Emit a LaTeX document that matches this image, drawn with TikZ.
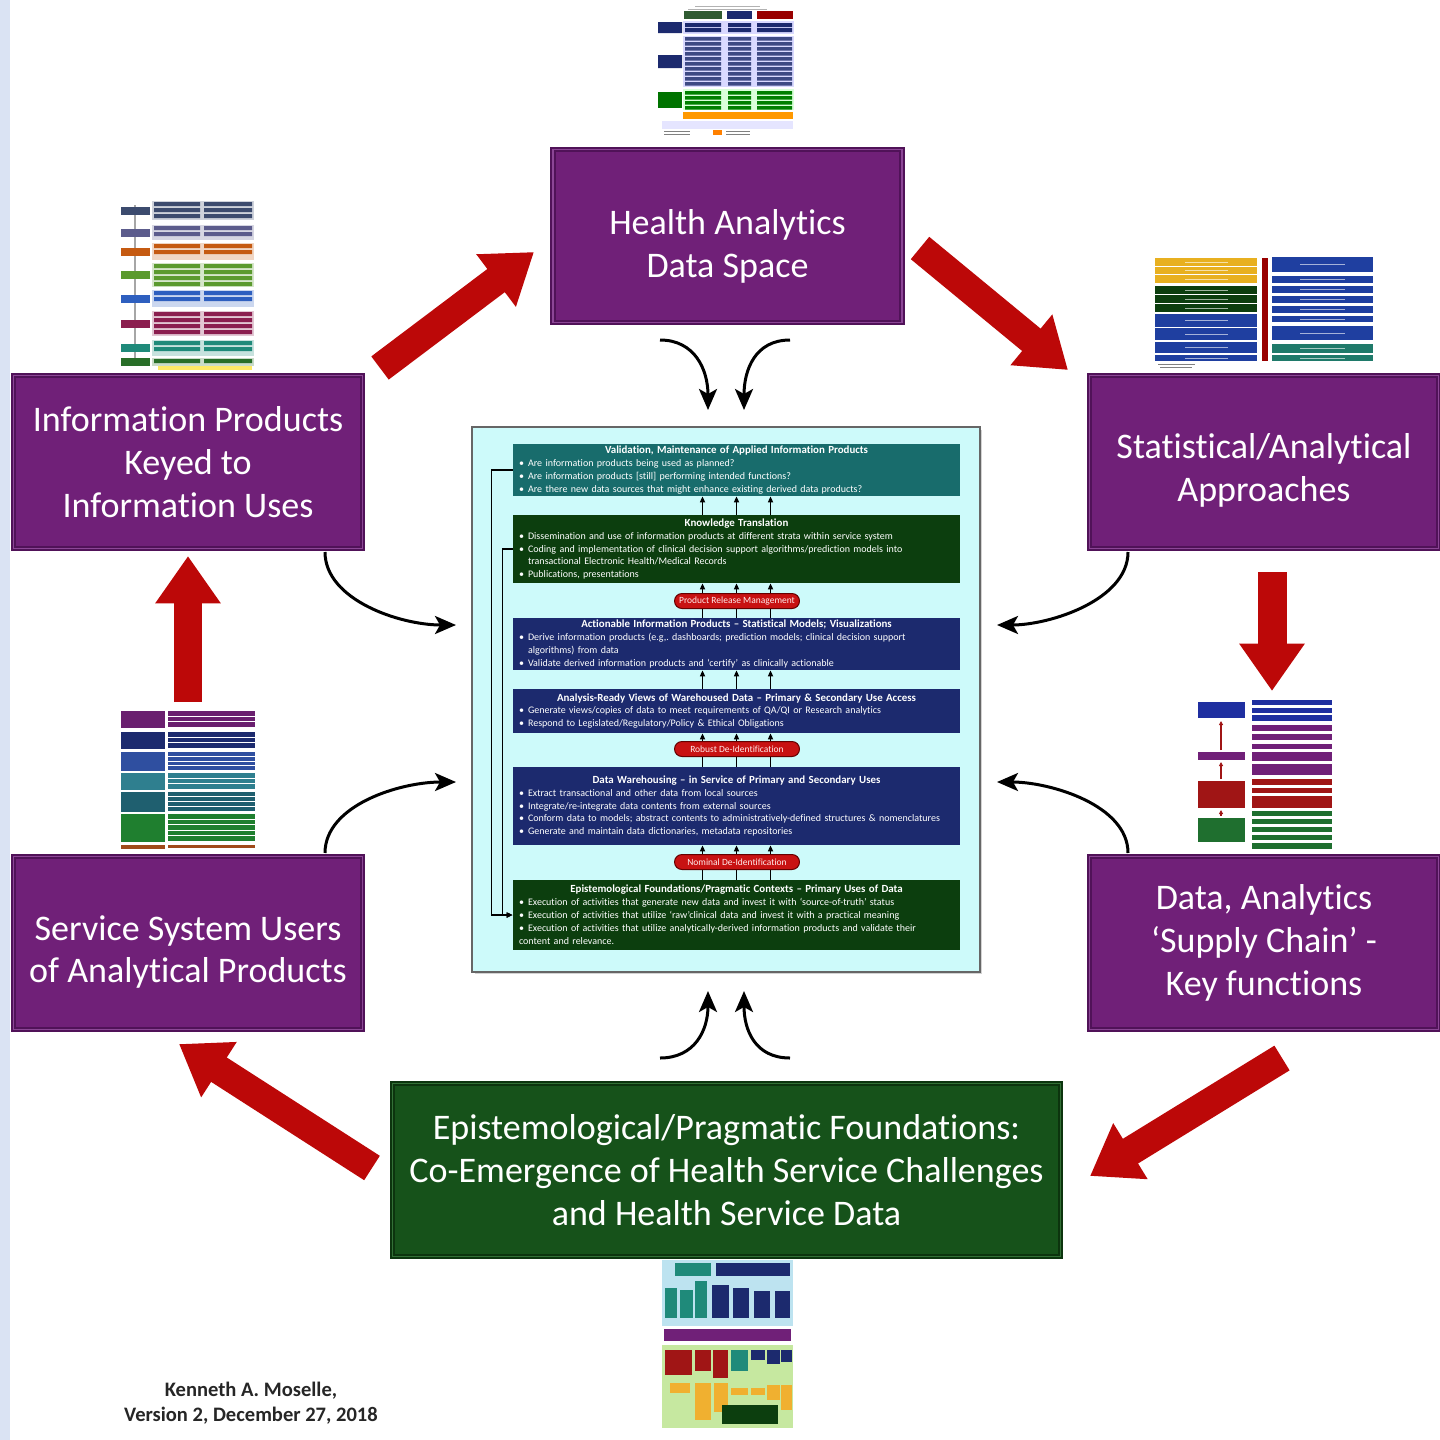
\documentclass[tikz,border=0pt]{standalone}
\usepackage{fontspec}
\setmainfont{Carlito}[Ligatures=NoCommon]
\usetikzlibrary{arrows.meta,calc,shadows}

\definecolor{boxpurple}{RGB}{112,32,120}
\definecolor{boxedge}{RGB}{80,18,88}
\definecolor{boxbevel}{RGB}{140,70,150}
\definecolor{boxgreen}{RGB}{22,82,26}
\definecolor{greenedge}{RGB}{12,52,14}
\definecolor{greenbevel}{RGB}{50,112,54}
\definecolor{panelcyan}{RGB}{205,250,250}
\definecolor{ipteal}{RGB}{24,108,108}
\definecolor{ipgreen}{RGB}{12,62,14}
\definecolor{ipnavy}{RGB}{28,42,110}
\definecolor{pillred}{RGB}{200,18,18}
\definecolor{arrowred}{RGB}{188,8,8}
\definecolor{stripblue}{RGB}{218,227,243}
\definecolor{ulslate}{RGB}{60,75,110}
\definecolor{ulgray}{RGB}{92,92,140}
\definecolor{ulorange}{RGB}{197,90,17}
\definecolor{ulgreen}{RGB}{91,154,46}
\definecolor{ulblue}{RGB}{46,95,191}
\definecolor{ulmaroon}{RGB}{139,30,79}
\definecolor{ulteal}{RGB}{31,138,122}
\definecolor{uldkgreen}{RGB}{40,110,40}
\definecolor{uryellow}{RGB}{232,176,32}
\definecolor{urblue}{RGB}{31,63,160}
\definecolor{urteal}{RGB}{31,122,106}
\definecolor{llpurple}{RGB}{106,31,111}
\definecolor{llblue}{RGB}{47,79,160}
\definecolor{llteal}{RGB}{47,127,143}
\definecolor{lldkteal}{RGB}{31,95,111}
\definecolor{llgreen}{RGB}{31,127,47}
\definecolor{llbrown}{RGB}{160,74,26}
\definecolor{lrblue}{RGB}{31,47,160}
\definecolor{lrred}{RGB}{160,21,21}
\definecolor{lrgreen}{RGB}{31,111,47}
\definecolor{tbblue}{RGB}{189,227,240}
\definecolor{tbgreen}{RGB}{198,232,160}
\definecolor{tborange}{RGB}{240,176,48}

\newcommand\ititle[1]{{\centering\bfseries\fontsize{6.2}{7.37}\selectfont #1\par}}
\newcommand\ibul[1]{\par\hangindent=0.18cm\hangafter=1\noindent\makebox[0.18cm][l]{\textbullet}#1}

\begin{document}
\begin{tikzpicture}[x=0.02cm,y=-0.02cm,
  bigbox/.style={draw=boxedge, fill=boxpurple, line width=0.04cm, minimum width=6.98cm, minimum height=3.46cm,
    double=boxbevel, double distance=0.03cm},
  boxtext/.style={align=center, text=white, font=\fontsize{20.5}{24.4}\selectfont},
  bigarrow/.style={draw=arrowred, line width=0.58cm, -{Triangle[length=0.95cm,width=1.25cm]}},
  swoop/.style={line width=0.06cm, -{Stealth[length=0.42cm,width=0.36cm,inset=0.1cm]}},
  innerbox/.style={text=white, text width=8.7cm, inner xsep=0.12cm, inner ysep=0.02cm,
    minimum width=8.94cm, font=\fontsize{5.7}{7.37}\selectfont\raggedright},
  pill/.style={fill=pillred, draw=red!40!black, line width=0.02cm, rounded corners=0.15cm,
    minimum width=2.5cm, minimum height=0.3cm, inner sep=0pt, text=white!92!red,
    font=\fontsize{5.4}{6}\selectfont},
  flowarrow/.style={line width=0.03cm, -{Triangle[length=0.12cm,width=0.1cm]}},
  feedline/.style={line width=0.03cm, -{Triangle[length=0.12cm,width=0.1cm]}}]

\useasboundingbox (0,0) rectangle (1440,1440);
\fill[stripblue] (0,0) rectangle (10,1440);

%% thumbnails
% top
\draw[gray!60, line width=0.02cm] (695,6) -- (760,6) (688,9) -- (767,9);
\fill[ipgreen!85] (684,11) rectangle (722,19);
\fill[ipnavy] (727,11) rectangle (752,19);
\fill[red!60!black] (757,11) rectangle (793,19);
\fill[blue!15] (683,21) rectangle (794,34);
\fill[blue!15] (683,36) rectangle (794,87);
\fill[green!15] (683,89) rectangle (794,110);
\fill[ipnavy] (658,22) rectangle (682,33) (658,55) rectangle (682,68);
\fill[green!45!black] (658,92) rectangle (682,108);
\foreach \y in {23,28}
  \fill[ipnavy] (685,\y) rectangle (721,\y+4) (728,\y) rectangle (751,\y+4) (757,\y) rectangle (792,\y+4);
\foreach \y in {37,42,...,82}
  \fill[ipnavy!85] (685,\y) rectangle (721,\y+3.5) (728,\y) rectangle (751,\y+3.5) (757,\y) rectangle (792,\y+3.5);
\foreach \y in {91,96,...,106}
  \fill[green!50!black] (685,\y) rectangle (721,\y+3.5) (728,\y) rectangle (751,\y+3.5) (757,\y) rectangle (792,\y+3.5);
\fill[orange!80!yellow] (683,112) rectangle (793,119);
\fill[blue!10] (662,121) rectangle (793,129);
\fill[orange] (713,130) rectangle (722,135);
\draw[gray, line width=0.02cm] (664,131) -- (690,131) (664,134) -- (690,134) (726,131) -- (750,131) (726,134) -- (750,134);

% upper left
\draw[gray!70, line width=0.04cm] (135,205) -- (135,364);
\foreach \a/\b/\c in {201/220/ulslate,225/240/ulgray,243/260/ulorange,263/287/ulgreen,
    290/307/ulblue,311/336/ulmaroon,340/356/ulteal,358/366/uldkgreen} {
  \fill[\c!25] (152,\a) rectangle (254,\b);
  \fill[\c] (121,{(\a+\b)/2-4}) rectangle (150,{(\a+\b)/2+4});
  \pgfmathtruncatemacro\n{max(1,(\b-\a)/6)}
  \foreach \k in {1,...,\n}
    \fill[\c] (154,{\a-5+6*\k}) rectangle (200,{\a-1+6*\k}) (204,{\a-5+6*\k}) rectangle (252,{\a-1+6*\k});
}
\fill[yellow!80!orange!60] (158,366) rectangle (252,370);

% upper right
\foreach \a/\b/\c in {258/266/uryellow,267/274/uryellow,275/283/uryellow,286/294/ipgreen,
    295/303/ipgreen,304/312/ipgreen,314/327/urblue,328/340/urblue,342/353/urblue,355/361/urblue} {
  \fill[\c] (1155,\a) rectangle (1257,\b);
  \draw[white!60!\c, line width=0.02cm] (1185,{(\a+\b)/2}) -- (1228,{(\a+\b)/2});
}
\fill[red!60!black] (1262,258) rectangle (1268,361);
\foreach \a/\b/\c in {257/272/urblue,276/283/urblue,286/293/urblue,296/303/urblue,306/313/urblue,
    316/322/urblue,326/340/urblue,344/353/urteal,355/361/urteal} {
  \fill[\c] (1272,\a) rectangle (1373,\b);
  \draw[white!60!\c, line width=0.02cm] (1300,{(\a+\b)/2}) -- (1345,{(\a+\b)/2});
}
\draw[gray, line width=0.02cm] (1158,364) -- (1195,364) (1160,367) -- (1192,367);

% lower left
\foreach \a/\b/\c/\n in {711/728/llpurple/3,732/749/ipnavy/3,752/771/llblue/4,773/790/llteal/3,
    792/812/lldkteal/4,814/842/llgreen/5,845/849/llbrown/1} {
  \fill[\c] (121,\a) rectangle (165,\b);
  \foreach \k in {1,...,\n}
    \fill[\c] (168,{\a+(\k-1)*(\b-\a)/\n}) rectangle (255,{\a+\k*(\b-\a)/\n-1});
}

% lower right
\fill[lrblue] (1198,702) rectangle (1245,718);
\fill[boxpurple] (1198,752) rectangle (1245,760);
\fill[lrred] (1198,781) rectangle (1245,808);
\fill[lrgreen] (1198,818) rectangle (1245,842);
\draw[lrred, line width=0.03cm, -{Triangle[length=0.08cm,width=0.08cm]}] (1221,750) -- (1221,721);
\draw[lrred, line width=0.03cm, -{Triangle[length=0.08cm,width=0.08cm]}] (1221,779) -- (1221,762);
\draw[lrred, line width=0.03cm, -{Triangle[length=0.08cm,width=0.08cm]}] (1221,816) -- (1221,810);
\foreach \a/\b/\c in {700/705/lrblue,708/713/lrblue,715/721/lrblue,725/731/boxpurple,734/740/boxpurple,
    744/749/boxpurple,752/761/boxpurple,764/775/boxpurple,779/785/lrred,788/793/lrred,796/808/lrred,
    811/816/lrgreen,819/824/lrgreen,827/832/lrgreen,835/840/lrgreen,843/849/lrgreen}
  \fill[\c] (1252,\a) rectangle (1332,\b);

% bottom
\fill[tbblue] (662,1260) rectangle (793,1326);
\fill[ulteal] (675,1263) rectangle (711,1276);
\fill[ipnavy] (716,1263) rectangle (790,1276);
\foreach \a/\b/\t/\c in {665/677/1288/ulteal,680/693/1290/ulteal,695/707/1281/ulteal,712/729/1285/ipnavy,
    733/749/1288/ipnavy,754/770/1291/ipnavy,775/790/1291/ipnavy}
  \fill[\c] (\a,\t) rectangle (\b,1318);
\fill[boxpurple] (664,1329) rectangle (791,1341);
\fill[tbgreen] (662,1345) rectangle (793,1428);
\foreach \a/\b/\h/\c in {665/692/1375/lrred,695/711/1371/lrred,713/728/1378/lrred,731/748/1371/ulteal,
    751/765/1360/ipnavy,767/780/1364/ipnavy,781/792/1362/ipnavy}
  \fill[\c] (\a,1350) rectangle (\b,\h);
\foreach \a/\b/\t/\h in {670/690/1383/1393,695/711/1383/1420,714/728/1383/1412,731/748/1388/1395,
    751/765/1388/1395,767/780/1385/1400,781/792/1385/1410}
  \fill[tborange] (\a,\t) rectangle (\b,\h);
\fill[ipgreen] (722,1405) rectangle (778,1424);

%% outer boxes
\node[bigbox] (hads) at (727.5,236) {};
\node[boxtext] (hadstext) at (727.5,246) {Health Analytics\\Data Space};
\node[bigbox] (infoprod) at (188,462) {};
\node[boxtext] (infoprodtext) at (188,462) {Information Products\\Keyed to\\Information Uses};
\node[bigbox] (statapp) at (1264,462) {};
\node[boxtext] (statapptext) at (1264,470) {Statistical/Analytical\\Approaches};
\node[bigbox] (users) at (188,943) {};
\node[boxtext] (userstext) at (188,952) {Service System Users\\of Analytical Products};
\node[bigbox] (supply) at (1264,943) {};
\node[boxtext] (supplytext) at (1264,943) {Data, Analytics\\‘Supply Chain’ -\\Key functions};
\node[bigbox, draw=greenedge, fill=boxgreen, double=greenbevel, minimum width=13.36cm] (found) at (726.5,1170) {};
\node[boxtext] (foundtext) at (726.5,1170) {Epistemological/Pragmatic Foundations:\\Co-Emergence of Health Service Challenges\\and Health Service Data};

%% big red arrows
\coordinate (ul-a) at (380,368);
\coordinate (ul-b) at (534,252);
\coordinate (ur-a) at (920,248);
\coordinate (ur-b) at (1068,370);
\coordinate (r-a) at (1272,572);
\coordinate (r-b) at (1272,691);
\coordinate (l-a) at (188,702);
\coordinate (l-b) at (188,556);
\coordinate (lr-a) at (1282,1058);
\coordinate (lr-b) at (1090,1176);
\coordinate (ll-a) at (372,1168);
\coordinate (ll-b) at (179,1044);
\draw[bigarrow] (ul-a) -- (ul-b);
\draw[bigarrow] (ur-a) -- (ur-b);
\draw[bigarrow] (r-a) -- (r-b);
\draw[bigarrow] (l-a) -- (l-b);
\draw[bigarrow] (lr-a) -- (lr-b);
\draw[bigarrow] (ll-a) -- (ll-b);

%% central panel
\node[fill=panelcyan, draw=gray!80!black, line width=0.05cm, minimum width=10.16cm, minimum height=10.9cm,
  drop shadow={shadow xshift=0.05cm, shadow yshift=-0.05cm, opacity=0.35}] (panel) at (726,699.5) {};

\node[innerbox, fill=ipteal, minimum height=1.04cm] (valid) at (736.5,470) {%
  \ititle{Validation, Maintenance of Applied Information Products}
  \ibul{Are information products being used as planned?}
  \ibul{Are information products [still] performing intended functions?}
  \ibul{Are there new data sources that might enhance existing derived data products?}};
\node[innerbox, fill=ipgreen, minimum height=1.36cm] (ktrans) at (736.5,549) {%
  \ititle{Knowledge Translation}
  \ibul{Dissemination and use of information products at different strata within service system}
  \ibul{Coding and implementation of clinical decision support algorithms/prediction models into\break transactional Electronic Health/Medical Records}
  \ibul{Publications, presentations}};
\node[innerbox, fill=ipnavy, minimum height=1.04cm] (action) at (736.5,644) {%
  \ititle{Actionable Information Products – Statistical Models; Visualizations}
  \ibul{Derive information products (e.g,.\ dashboards; prediction models; clinical decision support\break algorithms) from data}
  \ibul{Validate derived information products and ‘certify’ as clinically actionable}};
\node[innerbox, fill=ipnavy, minimum height=0.88cm] (ready) at (736.5,711) {%
  \ititle{Analysis-Ready Views of Warehoused Data – Primary \& Secondary Use Access}
  \ibul{Generate views/copies of data to meet requirements of QA/QI or Research analytics}
  \ibul{Respond to Legislated/Regulatory/Policy \& Ethical Obligations}};
\node[innerbox, fill=ipnavy, minimum height=1.56cm] (warehouse) at (736.5,806) {%
  \ititle{Data Warehousing – in Service of Primary and Secondary Uses}
  \ibul{Extract transactional and other data from local sources}
  \ibul{Integrate/re-integrate data contents from external sources}
  \ibul{Conform data to models; abstract contents to administratively-defined structures \& nomenclatures}
  \ibul{Generate and maintain data dictionaries, metadata repositories}};
\node[innerbox, fill=ipgreen, minimum height=1.4cm] (epist) at (736.5,915) {%
  \ititle{Epistemological Foundations/Pragmatic Contexts – Primary Uses of Data}
  \ibul{Execution of activities that generate new data and invest it with ‘source-of-truth’ status}
  \ibul{Execution of activities that utilize ‘raw’clinical data and invest it with a practical meaning}
  \ibul{Execution of activities that utilize analytically-derived information products and validate their\break content and relevance.}};

% flows up the stack
\foreach \dx in {-34,0,34} {
  \draw[flowarrow] ($(ktrans.north)+(\dx,0)$) -- ($(valid.south)+(\dx,0)$);
  \draw[flowarrow] ($(action.north)+(\dx,0)$) -- ($(ktrans.south)+(\dx,0)$);
  \draw[flowarrow] ($(ready.north)+(\dx,0)$) -- ($(action.south)+(\dx,0)$);
  \draw[flowarrow] ($(warehouse.north)+(\dx,0)$) -- ($(ready.south)+(\dx,0)$);
  \draw[flowarrow] ($(epist.north)+(\dx,0)$) -- ($(warehouse.south)+(\dx,0)$);
}
\node[pill] (prm) at (737,601) {Product Release Management};
\node[pill] (rdi) at (737,749) {Robust De-Identification};
\node[pill] (ndi) at (737,862) {Nominal De-Identification};

% feedback loops
\draw[feedline] (valid.west) -- ++(-21,0) |- (epist.west);
\draw[feedline] (ktrans.west) -- ++(-10,0) |- (epist.west);

%% swooping arrows into the panel
\coordinate (t1) at (660,340);  \coordinate (t1e) at (708,410);
\coordinate (t2) at (790,340);  \coordinate (t2e) at (744,410);
\coordinate (b1) at (660,1058); \coordinate (b1e) at (708,991);
\coordinate (b2) at (790,1058); \coordinate (b2e) at (744,991);
\coordinate (l1) at (325,552);  \coordinate (l1e) at (456,625);
\coordinate (r1) at (1128,552); \coordinate (r1e) at (997,625);
\coordinate (l2) at (325,853);  \coordinate (l2e) at (456,782);
\coordinate (r2) at (1128,853); \coordinate (r2e) at (997,782);
\draw[swoop] (t1) .. controls (695,340) and (708,370) .. (t1e);
\draw[swoop] (t2) .. controls (755,340) and (744,370) .. (t2e);
\draw[swoop] (b1) .. controls (695,1058) and (708,1030) .. (b1e);
\draw[swoop] (b2) .. controls (755,1058) and (744,1030) .. (b2e);
\draw[swoop] (l1) .. controls (325,600) and (400,625) .. (l1e);
\draw[swoop] (r1) .. controls (1128,600) and (1050,625) .. (r1e);
\draw[swoop] (l2) .. controls (325,805) and (400,782) .. (l2e);
\draw[swoop] (r2) .. controls (1128,805) and (1050,782) .. (r2e);

%% author
\node[align=center, font=\bfseries\fontsize{11.7}{14.2}\selectfont, text=black!85] (author) at (251,1403)
  {Kenneth A. Moselle,\\Version 2, December 27, 2018};
\end{tikzpicture}
\end{document}
